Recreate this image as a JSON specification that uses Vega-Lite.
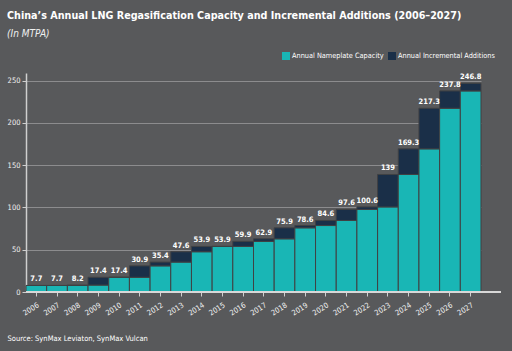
{
  "$schema": "https://vega.github.io/schema/vega-lite/v6.json",
  "width": 475,
  "height": 219,
  "autosize": "none",
  "padding": {"left": 26, "top": 73, "right": 11, "bottom": 59},
  "background": "#58595b",
  "title": {
    "text": "China’s Annual LNG Regasification Capacity and Incremental Additions (2006–2027)",
    "subtitle": "(In MTPA)",
    "anchor": "start",
    "frame": "bounds",
    "font": "DejaVu Sans Condensed",
    "fontSize": 10.7,
    "fontWeight": "bold",
    "color": "#ffffff",
    "subtitleFont": "DejaVu Sans Condensed",
    "subtitleFontSize": 10,
    "subtitleFontStyle": "italic",
    "subtitleColor": "#f0f0f0",
    "subtitlePadding": 7,
    "offset": 12
  },
  "datasets": {
    "bars": [
      {"year": "2006", "series": "Annual Nameplate Capacity", "value": 7.7},
      {"year": "2006", "series": "Annual Incremental Additions", "value": 0},
      {"year": "2007", "series": "Annual Nameplate Capacity", "value": 7.7},
      {"year": "2007", "series": "Annual Incremental Additions", "value": 0},
      {"year": "2008", "series": "Annual Nameplate Capacity", "value": 7.7},
      {"year": "2008", "series": "Annual Incremental Additions", "value": 0.5},
      {"year": "2009", "series": "Annual Nameplate Capacity", "value": 8.2},
      {"year": "2009", "series": "Annual Incremental Additions", "value": 9.2},
      {"year": "2010", "series": "Annual Nameplate Capacity", "value": 17.4},
      {"year": "2010", "series": "Annual Incremental Additions", "value": 0},
      {"year": "2011", "series": "Annual Nameplate Capacity", "value": 17.4},
      {"year": "2011", "series": "Annual Incremental Additions", "value": 13.5},
      {"year": "2012", "series": "Annual Nameplate Capacity", "value": 30.9},
      {"year": "2012", "series": "Annual Incremental Additions", "value": 4.5},
      {"year": "2013", "series": "Annual Nameplate Capacity", "value": 35.4},
      {"year": "2013", "series": "Annual Incremental Additions", "value": 12.2},
      {"year": "2014", "series": "Annual Nameplate Capacity", "value": 47.6},
      {"year": "2014", "series": "Annual Incremental Additions", "value": 6.3},
      {"year": "2015", "series": "Annual Nameplate Capacity", "value": 53.9},
      {"year": "2015", "series": "Annual Incremental Additions", "value": 0},
      {"year": "2016", "series": "Annual Nameplate Capacity", "value": 53.9},
      {"year": "2016", "series": "Annual Incremental Additions", "value": 6.0},
      {"year": "2017", "series": "Annual Nameplate Capacity", "value": 59.9},
      {"year": "2017", "series": "Annual Incremental Additions", "value": 3.0},
      {"year": "2018", "series": "Annual Nameplate Capacity", "value": 62.9},
      {"year": "2018", "series": "Annual Incremental Additions", "value": 13.0},
      {"year": "2019", "series": "Annual Nameplate Capacity", "value": 75.9},
      {"year": "2019", "series": "Annual Incremental Additions", "value": 2.7},
      {"year": "2020", "series": "Annual Nameplate Capacity", "value": 78.6},
      {"year": "2020", "series": "Annual Incremental Additions", "value": 6.0},
      {"year": "2021", "series": "Annual Nameplate Capacity", "value": 84.6},
      {"year": "2021", "series": "Annual Incremental Additions", "value": 13.0},
      {"year": "2022", "series": "Annual Nameplate Capacity", "value": 97.6},
      {"year": "2022", "series": "Annual Incremental Additions", "value": 3.0},
      {"year": "2023", "series": "Annual Nameplate Capacity", "value": 100.6},
      {"year": "2023", "series": "Annual Incremental Additions", "value": 38.4},
      {"year": "2024", "series": "Annual Nameplate Capacity", "value": 139.0},
      {"year": "2024", "series": "Annual Incremental Additions", "value": 30.3},
      {"year": "2025", "series": "Annual Nameplate Capacity", "value": 169.3},
      {"year": "2025", "series": "Annual Incremental Additions", "value": 48.0},
      {"year": "2026", "series": "Annual Nameplate Capacity", "value": 217.3},
      {"year": "2026", "series": "Annual Incremental Additions", "value": 20.5},
      {"year": "2027", "series": "Annual Nameplate Capacity", "value": 237.8},
      {"year": "2027", "series": "Annual Incremental Additions", "value": 9.0}
    ],
    "totals": [
      {"year": "2006", "total": 7.7},
      {"year": "2007", "total": 7.7},
      {"year": "2008", "total": 8.2},
      {"year": "2009", "total": 17.4},
      {"year": "2010", "total": 17.4},
      {"year": "2011", "total": 30.9},
      {"year": "2012", "total": 35.4},
      {"year": "2013", "total": 47.6},
      {"year": "2014", "total": 53.9},
      {"year": "2015", "total": 53.9},
      {"year": "2016", "total": 59.9},
      {"year": "2017", "total": 62.9},
      {"year": "2018", "total": 75.9},
      {"year": "2019", "total": 78.6},
      {"year": "2020", "total": 84.6},
      {"year": "2021", "total": 97.6},
      {"year": "2022", "total": 100.6},
      {"year": "2023", "total": 139},
      {"year": "2024", "total": 169.3},
      {"year": "2025", "total": 217.3},
      {"year": "2026", "total": 237.8},
      {"year": "2027", "total": 246.8}
    ]
  },
  "encoding": {
    "x": {
      "field": "year",
      "type": "ordinal",
      "scale": {"range": [0, 455], "paddingInner": 0, "paddingOuter": 0},
      "axis": {
        "title": "Source: SynMax Leviaton, SynMax Vulcan",
        "titleFont": "DejaVu Sans Condensed",
        "titleFontSize": 7.5,
        "titleFontWeight": "normal",
        "titleColor": "#ffffff",
        "titleAnchor": "start",
        "titleAlign": "left",
        "titleBaseline": "alphabetic",
        "titleX": -19,
        "titleY": 48,
        "domain": false,
        "ticks": true,
        "tickColor": "#cfcfcf",
        "tickSize": 4,
        "labelAngle": -32,
        "labelAlign": "right",
        "labelBaseline": "top",
        "labelFont": "DejaVu Sans Condensed",
        "labelFontSize": 7.5,
        "labelColor": "#f2f2f2",
        "labelPadding": 5
      }
    }
  },
  "layer": [
    {
      "data": {"name": "bars"},
      "mark": {"type": "bar", "stroke": "#404143", "strokeWidth": 1},
      "encoding": {
        "y": {
          "field": "value",
          "type": "quantitative",
          "stack": "zero",
          "scale": {"domain": [0, 259], "nice": false},
          "axis": {
            "title": null,
            "values": [0, 50, 100, 150, 200, 250],
            "grid": true,
            "gridColor": "#8c8c8e",
            "gridWidth": 1,
            "domain": true,
            "domainColor": "#cfcfcf",
            "domainWidth": 1.5,
            "tickColor": "#cfcfcf",
            "tickSize": 4,
            "labelFont": "DejaVu Sans Condensed",
            "labelFontSize": 7.5,
            "labelColor": "#f2f2f2",
            "labelPadding": 2
          }
        },
        "color": {
          "field": "series",
          "type": "nominal",
          "scale": {
            "domain": ["Annual Nameplate Capacity", "Annual Incremental Additions"],
            "range": ["#19b6b5", "#1a2f48"]
          },
          "legend": {
            "title": null,
            "orient": "none",
            "direction": "horizontal",
            "legendX": 256,
            "legendY": -21,
            "symbolType": "square",
            "symbolSize": 64,
            "symbolStrokeWidth": 0,
            "labelFont": "DejaVu Sans Condensed",
            "labelFontSize": 7.3,
            "labelColor": "#ffffff",
            "labelOffset": 2,
            "columnPadding": 4
          }
        },
        "order": {"field": "series", "sort": "descending"}
      }
    },
    {
      "data": {"name": "totals"},
      "mark": {
        "type": "text",
        "dy": -6,
        "font": "DejaVu Sans Condensed",
        "fontSize": 7.5,
        "fontWeight": "bold",
        "color": "#ffffff"
      },
      "encoding": {
        "y": {"field": "total", "type": "quantitative"},
        "text": {"field": "total", "type": "quantitative", "format": "~r"}
      }
    },
    {
      "data": {"name": "totals"},
      "mark": {"type": "rule", "color": "#d9d9d9", "strokeWidth": 1.5},
      "encoding": {"y": {"datum": 0}, "x": null}
    }
  ],
  "config": {
    "view": {"stroke": null}
  }
}
